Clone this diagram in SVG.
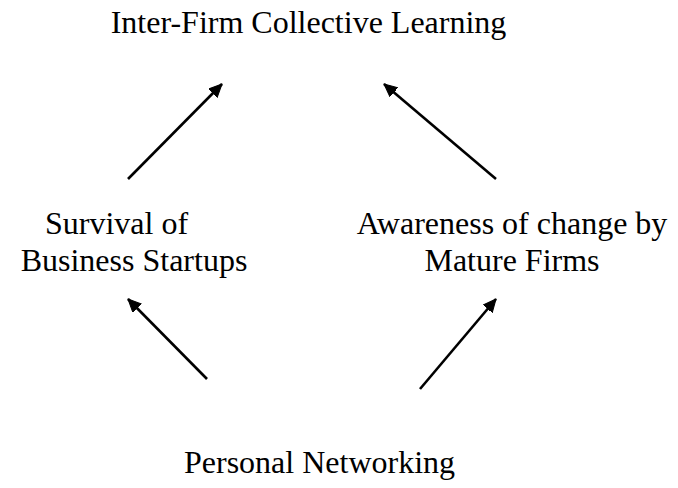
<svg xmlns="http://www.w3.org/2000/svg" width="678" height="488" viewBox="0 0 678 488">
<style>
text{font-family:"Liberation Serif","Times New Roman",serif;font-size:32px;fill:#000;text-anchor:middle}
.c{stroke:#000;stroke-width:2.6;fill:none;marker-end:url(#ah)}
</style>
<defs>
<marker id="ah" markerUnits="userSpaceOnUse" markerWidth="16" markerHeight="14" refX="13" refY="6" orient="auto">
<path d="M0,0 L13,6 L0,12 Z" fill="#000" stroke="#000" stroke-width="1" stroke-linejoin="round"/>
</marker>
</defs>
<rect width="678" height="488" fill="#fff"/>
<g id="node-learning"><text x="308.5" y="33">Inter-Firm Collective Learning</text></g>
<g id="node-survival"><text x="116.5" y="234">Survival of</text><text x="134" y="271">Business Startups</text></g>
<g id="node-awareness"><text x="512" y="234">Awareness of change by</text><text x="512" y="271">Mature Firms</text></g>
<g id="node-networking"><text x="319.5" y="473">Personal Networking</text></g>
<g id="connectors">
<line class="c" x1="128" y1="179" x2="222" y2="84"/>
<line class="c" x1="496" y1="179" x2="384" y2="84"/>
<line class="c" x1="207" y1="379" x2="128" y2="299"/>
<line class="c" x1="420" y1="389" x2="496" y2="299"/>
</g>
</svg>
